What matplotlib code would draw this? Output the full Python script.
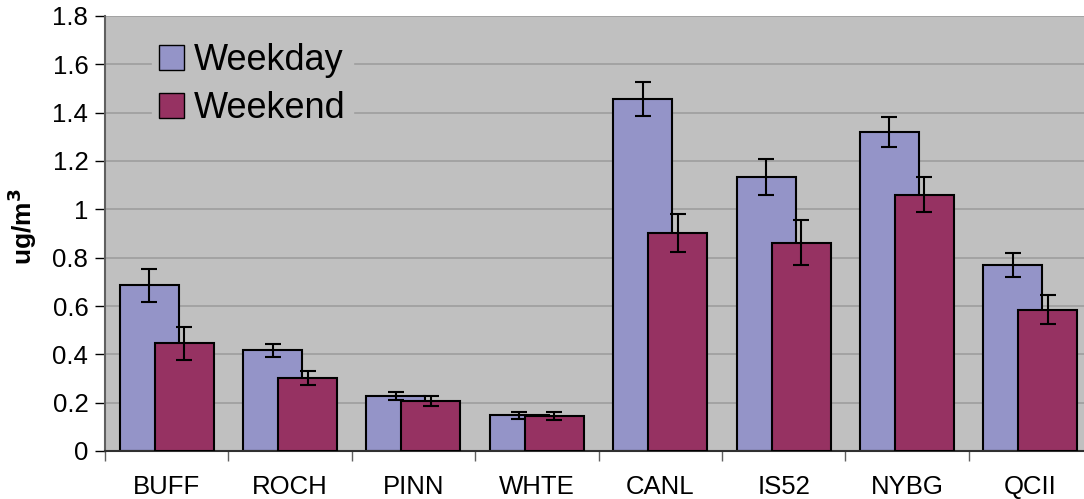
import matplotlib.pyplot as plt
import numpy as np

plt.rcParams['font.family'] = ['Liberation Sans', 'DejaVu Sans']

# data
sites = ['BUFF', 'ROCH', 'PINN', 'WHTE', 'CANL', 'IS52', 'NYBG', 'QCII']
weekday = [0.685, 0.417, 0.227, 0.148, 1.458, 1.133, 1.320, 0.770]
weekday_err = [0.070, 0.026, 0.017, 0.015, 0.070, 0.075, 0.060, 0.050]
weekend = [0.445, 0.303, 0.206, 0.146, 0.902, 0.862, 1.061, 0.585]
weekend_err = [0.068, 0.030, 0.021, 0.016, 0.077, 0.093, 0.074, 0.060]

c_wd = '#9494C8'
c_we = '#963262'

fig = plt.figure(figsize=(10.84, 4.99), dpi=100)
fig.patch.set_facecolor('white')
# plot area runs a little past the right edge of the picture
ax1 = fig.add_axes([105/1084, 48/499, 987/1084, 435/499])
ax1.set_facecolor('#C0C0C0')

x = np.arange(len(sites))
w = 0.478
off = 0.142

ax1.yaxis.grid(True, color='#A0A0A0', linewidth=1.3, zorder=0)
ax1.set_axisbelow(True)

ax1.bar(x - off, weekday, w, color=c_wd, edgecolor='black', linewidth=1.5,
        label='Weekday', zorder=2)
ax1.errorbar(x - off, weekday, yerr=weekday_err, fmt='none', ecolor='black',
             elinewidth=1.5, capsize=6, capthick=1.5, zorder=3)
ax1.bar(x + off, weekend, w, color=c_we, edgecolor='black', linewidth=1.5,
        label='Weekend', zorder=4)
ax1.errorbar(x + off, weekend, yerr=weekend_err, fmt='none', ecolor='black',
             elinewidth=1.5, capsize=6, capthick=1.5, zorder=5)

ax1.set_xlim(-0.5, len(sites) - 0.5)
ax1.set_ylim(0, 1.8)
ax1.set_yticks(np.arange(0, 1.81, 0.2))
ax1.set_yticklabels(['0', '0.2', '0.4', '0.6', '0.8', '1', '1.2', '1.4', '1.6', '1.8'])
ax1.set_xticks(x)
ax1.set_xticklabels(sites)
ax1.set_xticks(np.arange(-0.5, len(sites), 1.0), minor=True)
ax1.tick_params(axis='x', which='major', length=0, labelsize=18.5, pad=17)
ax1.tick_params(axis='x', which='minor', length=7, width=1, color='#606060')
ax1.tick_params(axis='y', length=7, width=1, labelsize=18.5, pad=5)

ax1.spines['top'].set_visible(False)
ax1.spines['right'].set_visible(False)
ax1.spines['left'].set_color('#606060')
ax1.spines['left'].set_linewidth(1.5)
ax1.spines['bottom'].set_color('#303030')
ax1.spines['bottom'].set_linewidth(1.5)

ax1.set_ylabel('ug/m$^\\mathbf{3}$', fontsize=19, fontweight='bold')
ax1.yaxis.set_label_coords(-0.067, 0.515)

leg = ax1.legend(loc='upper left', bbox_to_anchor=(0.029, 0.996), fontsize=26,
                 frameon=True, facecolor='#C0C0C0', edgecolor='#C0C0C0',
                 framealpha=1, handlelength=0.7, handleheight=0.7,
                 handletextpad=0.28, labelspacing=0.37, borderpad=0.2,
                 fancybox=False)
for h in leg.legend_handles:
    h.set_linewidth(1)

plt.savefig('out.png', dpi=100)
